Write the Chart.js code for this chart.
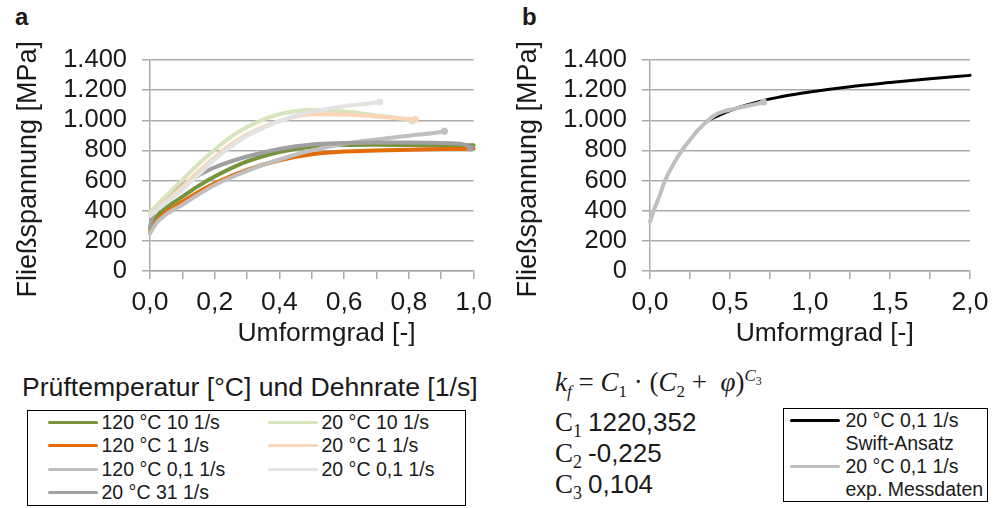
<!DOCTYPE html>
<html>
<head>
<meta charset="utf-8">
<script src="https://cdn.jsdelivr.net/npm/chart.js@4.4.1/dist/chart.umd.min.js"></script>
<style>
  body { margin: 0; width: 1000px; height: 508px; background: #fff; position: relative; overflow: hidden;
         font-family: "Liberation Sans", Arial, sans-serif; color: #1a1a1a; }
  canvas { position: absolute; top: 0; }
  #chartA { left: 0; }
  #chartB { left: 500px; }
  .tag { position: absolute; font-weight: bold; font-size: 24px; line-height: 24px; }
  #legendTitle { position: absolute; left: 22px; top: 372px; font-size: 26.6px; line-height: 30px; white-space: nowrap; }
  #legendA { position: absolute; left: 27px; top: 409.5px; width: 417px; height: 94px; border: 1.5px solid #000;
             padding-left: 19.5px; display: grid; grid-template-columns: 220px 197px;
             grid-template-rows: repeat(4, 23.5px); grid-auto-flow: column; }
  #legendB { position: absolute; left: 783px; top: 408px; width: 197px; height: 92px; border: 1.5px solid #000;
             padding-left: 5.5px; }
  .item { display: flex; align-items: center; font-size: 19.5px; white-space: nowrap; }
  #legendB .item { align-items: flex-start; line-height: 23px; white-space: pre-line; }
  .swatch { display: inline-block; width: 50px; height: 3px; border-radius: 2px; margin-right: 4px; }
  #legendB .swatch { margin-top: 10px; margin-right: 6px; }
  #formula { position: absolute; left: 555px; top: 367px; font-family: "Liberation Serif", serif; font-size: 27px;
             line-height: 30px; white-space: nowrap; }
  #formula sub, #formula sup { font-size: 17px; line-height: 0; }
  #coeffs { position: absolute; left: 555px; top: 407px; font-size: 26px; }
  #coeffs div { height: 31px; line-height: 31px; white-space: nowrap; }
  #coeffs .c { font-family: "Liberation Serif", serif; font-size: 27px; }
  #coeffs sub { font-size: 18px; line-height: 0; vertical-align: -6px; font-family: "Liberation Serif", serif; margin-right: 6px; }
</style>
</head>
<body>
<div class="tag" style="left:15px;top:5px">a</div>
<div class="tag" style="left:522px;top:5px">b</div>
<canvas id="chartA" width="500" height="360"></canvas>
<canvas id="chartB" width="500" height="360"></canvas>
<div id="legendTitle">Prüftemperatur [°C] und Dehnrate [1/s]</div>
<div id="legendA"></div>
<div id="formula"><i>k<sub>f</sub></i> = <i>C</i><sub>1</sub> · (<i>C</i><sub>2</sub> + &nbsp;<i>φ</i>)<sup><i>C</i><sub style="font-size:12px">3</sub></sup></div>
<div id="coeffs">
  <div><span class="c">C</span><sub>1</sub>1220,352</div>
  <div><span class="c">C</span><sub>2</sub>-0,225</div>
  <div><span class="c">C</span><sub>3</sub>0,104</div>
</div>
<div id="legendB"></div>
<script>
// Fließkurven (a): Umformgrad phi und Fließspannung kf
const phi120_10 = [0, 0.02, 0.05, 0.1, 0.15, 0.2, 0.3, 0.4, 0.5, 0.6, 0.7, 0.8, 0.9, 1.0, 1.01];
const kf120_10  = [282, 360, 420, 493, 565, 627, 727, 790, 825, 836, 838, 836, 834, 835, 838];
const phi120_1  = [0, 0.02, 0.05, 0.1, 0.15, 0.2, 0.3, 0.4, 0.5, 0.6, 0.7, 0.8, 0.9, 1.0, 1.02];
const kf120_1   = [260, 330, 390, 460, 525, 582, 671, 735, 775, 793, 800, 805, 809, 811, 812];
const phi120_01 = [0, 0.02, 0.05, 0.1, 0.15, 0.2, 0.3, 0.4, 0.5, 0.6, 0.7, 0.8, 0.9, 0.91];
const kf120_01  = [249, 318, 375, 440, 508, 571, 665, 740, 800, 844, 873, 898, 922, 927];
const phi20_31  = [0, 0.01, 0.03, 0.05, 0.1, 0.15, 0.2, 0.3, 0.4, 0.5, 0.6, 0.7, 0.8, 0.9, 0.97, 0.99];
const kf20_31   = [293, 380, 450, 493, 571, 635, 688, 760, 810, 840, 849, 852, 852, 849, 840, 816];
const phi20_10  = [0, 0.05, 0.1, 0.15, 0.2, 0.25, 0.3, 0.35, 0.4, 0.45, 0.5, 0.6, 0.7, 0.8, 0.81];
const kf20_10   = [390, 500, 605, 710, 805, 890, 955, 1005, 1040, 1060, 1068, 1058, 1032, 1002, 995];
const phi20_1   = [0, 0.05, 0.1, 0.15, 0.2, 0.25, 0.3, 0.35, 0.4, 0.45, 0.5, 0.6, 0.7, 0.8, 0.82];
const kf20_1    = [365, 465, 560, 660, 755, 840, 905, 957, 995, 1025, 1040, 1038, 1025, 1008, 1005];
const phi20_01  = [0, 0.05, 0.1, 0.15, 0.2, 0.25, 0.3, 0.35, 0.4, 0.45, 0.5, 0.6, 0.7, 0.71];
const kf20_01   = [370, 455, 540, 640, 740, 825, 895, 950, 995, 1030, 1058, 1093, 1118, 1122];

// (b): Swift-Ansatz und Messdaten 20 °C 0,1 1/s
const phiSwift = [0.35, 0.4, 0.5, 0.6, 0.7, 0.8, 0.9, 1.0, 1.25, 1.5, 1.75, 2.0];
const kfSwift  = [990, 1018, 1065, 1100, 1129, 1152, 1171, 1188, 1223, 1250, 1275, 1298];
const phiExp   = [0, 0.03, 0.06, 0.094, 0.15, 0.2, 0.25, 0.3, 0.365, 0.4, 0.45, 0.5, 0.6, 0.7, 0.71];
const kfExp    = [327, 420, 500, 600, 715, 800, 870, 935, 1000, 1030, 1055, 1070, 1093, 1118, 1122];

const labelsA = ['120 °C 10 1/s', '120 °C 1 1/s', '120 °C 0,1 1/s', '20 °C 31 1/s',
                 '20 °C 10 1/s', '20 °C 1 1/s', '20 °C 0,1 1/s'];
const colorsA = ['#77933c', '#e46c0a', '#bfbfbf', '#a0a0a0', '#d7e4bd', '#fad5b8', '#e3e3e3'];
const labelsB = ['20 °C 0,1 1/s\nSwift-Ansatz', '20 °C 0,1 1/s\nexp. Messdaten'];
const colorsB = ['#000000', '#bfbfbf'];

const FONT = '"Liberation Sans", Arial, sans-serif';
Chart.defaults.font.family = FONT;
Chart.defaults.color = '#1a1a1a';

function toXY(xs, ys) {
  return xs.map((x, i) => ({ x: x, y: ys[i] }));
}

function makeDataset(label, color, pts, width, endDot, n, i) {
  return {
    label: label,
    data: pts,
    borderColor: color,
    backgroundColor: color,
    borderWidth: width,
    borderCapStyle: 'round',
    cubicInterpolationMode: 'monotone',
    pointRadius: ctx => endDot && ctx.dataIndex === pts.length - 1 ? 3.5 : 0,
    pointBorderWidth: 0,
    pointBackgroundColor: color,
    clip: false,
    order: n - i // later series drawn on top, like the original
  };
}

function fmtThousand(v) {
  if (v >= 1000) return Math.floor(v / 1000) + '.' + String(v % 1000).padStart(3, '0');
  return String(v);
}

// builds the html legend from the chart's own datasets
const htmlLegend = {
  id: 'htmlLegend',
  afterUpdate(chart, args, opts) {
    const box = document.getElementById(opts.containerID);
    box.innerHTML = '';
    chart.data.datasets.forEach(ds => {
      const item = document.createElement('div');
      item.className = 'item';
      const sw = document.createElement('span');
      sw.className = 'swatch';
      sw.style.background = ds.borderColor;
      const tx = document.createElement('span');
      tx.textContent = ds.label;
      item.appendChild(sw);
      item.appendChild(tx);
      box.appendChild(item);
    });
  }
};

function makeOptions(xMax, xStep, labelEvery, plotWidth, legendId) {
  const grid = '#ababab';
  return {
    responsive: false,
    animation: false,
    layout: { padding: { top: 60, right: 500 - 150 - plotWidth, left: 0, bottom: 0 } },
    plugins: {
      legend: { display: false },
      tooltip: { enabled: false },
      htmlLegend: { containerID: legendId }
    },
    scales: {
      x: {
        type: 'linear',
        min: 0,
        max: xMax,
        afterFit: s => { s.height = 89; },
        grid: { display: true, drawOnChartArea: false, drawTicks: true, tickLength: 8, color: grid, lineWidth: 1.5 },
        border: { color: grid, width: 1.5 },
        ticks: {
          stepSize: xStep,
          autoSkip: false,
          maxRotation: 0,
          padding: 8,
          font: { size: 26.5 },
          color: '#1a1a1a',
          callback: v => Math.round(v / xStep) % labelEvery === 0 ? v.toFixed(1).replace('.', ',') : ''
        },
        // leading spaces push the title a little right, as in the original
        title: { display: true, text: '    Umformgrad [-]', font: { size: 26.5 }, color: '#1a1a1a', padding: { top: 0, bottom: 10 } }
      },
      y: {
        min: 0,
        max: 1400,
        afterFit: s => { s.width = 150; },
        grid: { color: grid, lineWidth: 1.5, tickLength: 8 },
        border: { color: grid, width: 1.5 },
        ticks: {
          stepSize: 200,
          autoSkip: false,
          padding: 15,
          font: { size: 25.5 },
          color: '#1a1a1a',
          callback: v => fmtThousand(v)
        },
        title: { display: true, text: 'Fließspannung [MPa] ', font: { size: 27 }, color: '#1a1a1a', padding: { top: 12, bottom: 0 } }
      }
    }
  };
}

const seriesA = [
  toXY(phi120_10, kf120_10), toXY(phi120_1, kf120_1), toXY(phi120_01, kf120_01), toXY(phi20_31, kf20_31),
  toXY(phi20_10, kf20_10), toXY(phi20_1, kf20_1), toXY(phi20_01, kf20_01)
];

new Chart(document.getElementById('chartA').getContext('2d'), {
  type: 'line',
  data: { datasets: seriesA.map((pts, i) => makeDataset(labelsA[i], colorsA[i], pts, 4, true, seriesA.length, i)) },
  options: makeOptions(1, 0.1, 2, 325, 'legendA'),
  plugins: [htmlLegend]
});

const seriesB = [toXY(phiSwift, kfSwift), toXY(phiExp, kfExp)];

new Chart(document.getElementById('chartB').getContext('2d'), {
  type: 'line',
  data: { datasets: seriesB.map((pts, i) => makeDataset(labelsB[i], colorsB[i], pts, i === 0 ? 3 : 4, i === 1, seriesB.length, i)) },
  options: makeOptions(2, 0.25, 2, 320, 'legendB'),
  plugins: [htmlLegend]
});
</script>
</body>
</html>
